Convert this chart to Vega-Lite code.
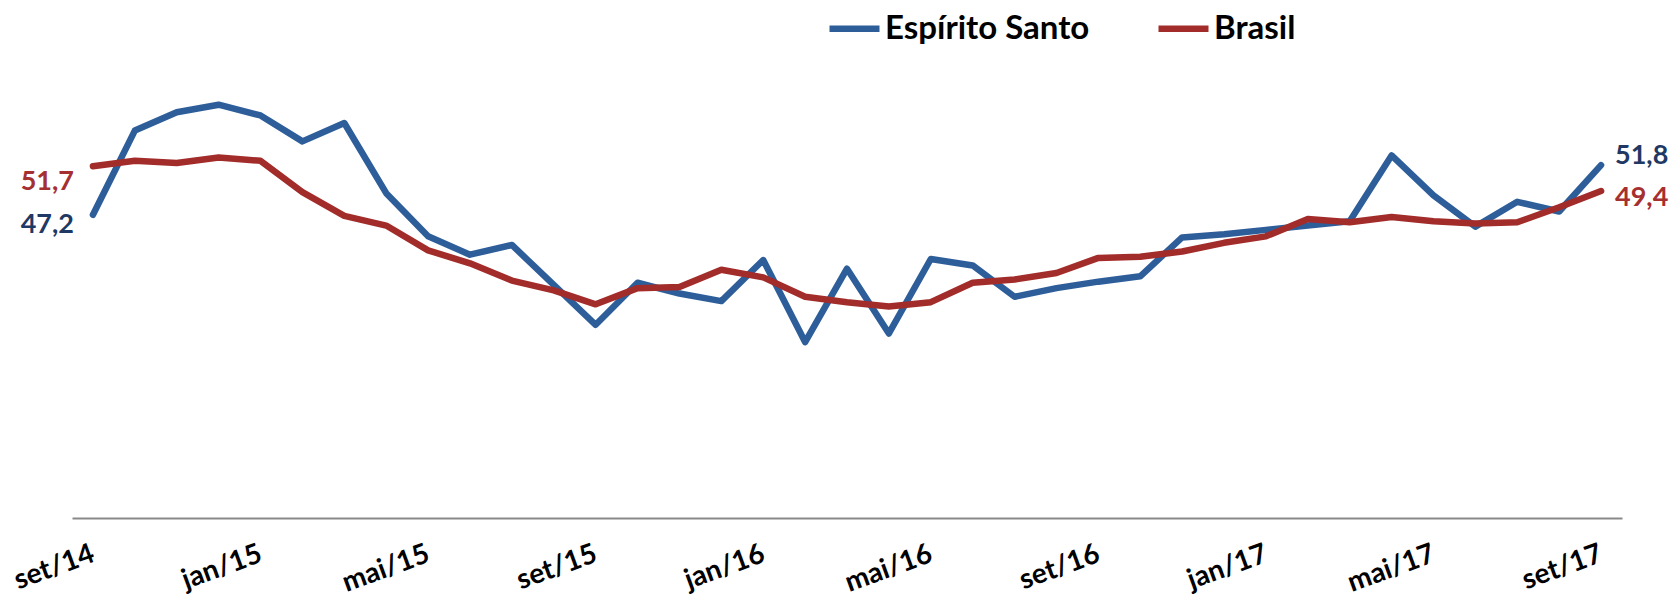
{
  "$schema": "https://vega.github.io/schema/vega-lite/v6.json",
  "width": 1550,
  "height": 518,
  "autosize": {"type": "none"},
  "padding": {"left": 72, "top": 0, "right": 55, "bottom": 84},
  "background": "white",
  "config": {
    "view": {"stroke": null},
    "font": "Lato",
    "locale": {"number": {"decimal": ",", "thousands": ".", "grouping": [3], "currency": ["R$", ""]}}
  },
  "data": {
    "values": [
      {"mes": "set/14", "Espírito Santo": 47.2, "Brasil": 51.7},
      {"mes": "out/14", "Espírito Santo": 55.0, "Brasil": 52.2},
      {"mes": "nov/14", "Espírito Santo": 56.7, "Brasil": 52.0},
      {"mes": "dez/14", "Espírito Santo": 57.4, "Brasil": 52.5},
      {"mes": "jan/15", "Espírito Santo": 56.4, "Brasil": 52.2},
      {"mes": "fev/15", "Espírito Santo": 54.0, "Brasil": 49.3},
      {"mes": "mar/15", "Espírito Santo": 55.7, "Brasil": 47.1},
      {"mes": "abr/15", "Espírito Santo": 49.2, "Brasil": 46.2},
      {"mes": "mai/15", "Espírito Santo": 45.2, "Brasil": 43.9},
      {"mes": "jun/15", "Espírito Santo": 43.5, "Brasil": 42.7},
      {"mes": "jul/15", "Espírito Santo": 44.4, "Brasil": 41.1},
      {"mes": "ago/15", "Espírito Santo": 40.7, "Brasil": 40.2},
      {"mes": "set/15", "Espírito Santo": 37.0, "Brasil": 38.9},
      {"mes": "out/15", "Espírito Santo": 40.9, "Brasil": 40.4},
      {"mes": "nov/15", "Espírito Santo": 39.9, "Brasil": 40.5},
      {"mes": "dez/15", "Espírito Santo": 39.2, "Brasil": 42.1},
      {"mes": "jan/16", "Espírito Santo": 43.0, "Brasil": 41.4},
      {"mes": "fev/16", "Espírito Santo": 35.4, "Brasil": 39.6},
      {"mes": "mar/16", "Espírito Santo": 42.2, "Brasil": 39.1},
      {"mes": "abr/16", "Espírito Santo": 36.2, "Brasil": 38.7},
      {"mes": "mai/16", "Espírito Santo": 43.1, "Brasil": 39.1},
      {"mes": "jun/16", "Espírito Santo": 42.5, "Brasil": 40.9},
      {"mes": "jul/16", "Espírito Santo": 39.6, "Brasil": 41.2},
      {"mes": "ago/16", "Espírito Santo": 40.4, "Brasil": 41.8},
      {"mes": "set/16", "Espírito Santo": 41.0, "Brasil": 43.2},
      {"mes": "out/16", "Espírito Santo": 41.5, "Brasil": 43.3},
      {"mes": "nov/16", "Espírito Santo": 45.1, "Brasil": 43.8},
      {"mes": "dez/16", "Espírito Santo": 45.4, "Brasil": 44.6},
      {"mes": "jan/17", "Espírito Santo": 45.8, "Brasil": 45.2},
      {"mes": "fev/17", "Espírito Santo": 46.2, "Brasil": 46.8},
      {"mes": "mar/17", "Espírito Santo": 46.6, "Brasil": 46.5},
      {"mes": "abr/17", "Espírito Santo": 52.7, "Brasil": 47.0},
      {"mes": "mai/17", "Espírito Santo": 49.0, "Brasil": 46.6},
      {"mes": "jun/17", "Espírito Santo": 46.1, "Brasil": 46.4},
      {"mes": "jul/17", "Espírito Santo": 48.4, "Brasil": 46.5},
      {"mes": "ago/17", "Espírito Santo": 47.5, "Brasil": 47.9},
      {"mes": "set/17", "Espírito Santo": 51.8, "Brasil": 49.4}
    ]
  },
  "transform": [{"fold": ["Espírito Santo", "Brasil"], "as": ["serie", "valor"]}],
  "encoding": {
    "x": {
      "field": "mes",
      "type": "ordinal",
      "sort": null,
      "scale": {"type": "point", "padding": 0.5},
      "axis": {
        "title": null,
        "values": ["set/14", "jan/15", "mai/15", "set/15", "jan/16", "mai/16", "set/16", "jan/17", "mai/17", "set/17"],
        "labelAngle": -20,
        "labelAlign": "right",
        "labelBaseline": "middle",
        "labelPadding": 35,
        "labelFont": "Lato",
        "labelFontSize": 28,
        "labelFontWeight": "bold",
        "labelColor": "#000000",
        "labelOverlap": false,
        "labelBound": false,
        "ticks": false,
        "grid": false,
        "domainColor": "#898989",
        "domainWidth": 2
      }
    },
    "y": {
      "field": "valor",
      "type": "quantitative",
      "scale": {"domain": [19.1, 67.1], "nice": false, "zero": false},
      "axis": null
    }
  },
  "layer": [
    {
      "mark": {"type": "line", "strokeWidth": 6.5, "strokeCap": "round", "strokeJoin": "round"},
      "encoding": {
        "color": {
          "field": "serie",
          "type": "nominal",
          "scale": {"domain": ["Espírito Santo", "Brasil"], "range": ["#2E5E9A", "#A22C2A"]},
          "legend": {
            "orient": "none",
            "legendX": 754,
            "legendY": 0,
            "direction": "horizontal",
            "title": null,
            "symbolType": "stroke",
            "symbolSize": 2500,
            "symbolStrokeWidth": 6.5,
            "labelFont": "Lato",
            "labelFontSize": 33,
            "labelFontWeight": "bold",
            "labelColor": "#000000",
            "labelOffset": 2,
            "labelLimit": 400,
            "columnPadding": 55
          }
        }
      }
    },
    {
      "transform": [{"filter": "datum.mes === 'set/14' && datum.serie === 'Brasil'"}],
      "mark": {"type": "text", "align": "right", "baseline": "alphabetic", "dx": -19, "dy": 24, "fontSize": 27, "fontWeight": "bold", "color": "#A5302F"},
      "encoding": {"text": {"field": "valor", "type": "quantitative", "format": ".1f"}}
    },
    {
      "transform": [{"filter": "datum.mes === 'set/14' && datum.serie === 'Espírito Santo'"}],
      "mark": {"type": "text", "align": "right", "baseline": "alphabetic", "dx": -19, "dy": 18, "fontSize": 27, "fontWeight": "bold", "color": "#1F3864"},
      "encoding": {"text": {"field": "valor", "type": "quantitative", "format": ".1f"}}
    },
    {
      "transform": [{"filter": "datum.mes === 'set/17' && datum.serie === 'Espírito Santo'"}],
      "mark": {"type": "text", "align": "left", "baseline": "alphabetic", "dx": 14, "dy": -1, "fontSize": 27, "fontWeight": "bold", "color": "#1F3864"},
      "encoding": {"text": {"field": "valor", "type": "quantitative", "format": ".1f"}}
    },
    {
      "transform": [{"filter": "datum.mes === 'set/17' && datum.serie === 'Brasil'"}],
      "mark": {"type": "text", "align": "left", "baseline": "alphabetic", "dx": 14, "dy": 15, "fontSize": 27, "fontWeight": "bold", "color": "#A5302F"},
      "encoding": {"text": {"field": "valor", "type": "quantitative", "format": ".1f"}}
    }
  ]
}
